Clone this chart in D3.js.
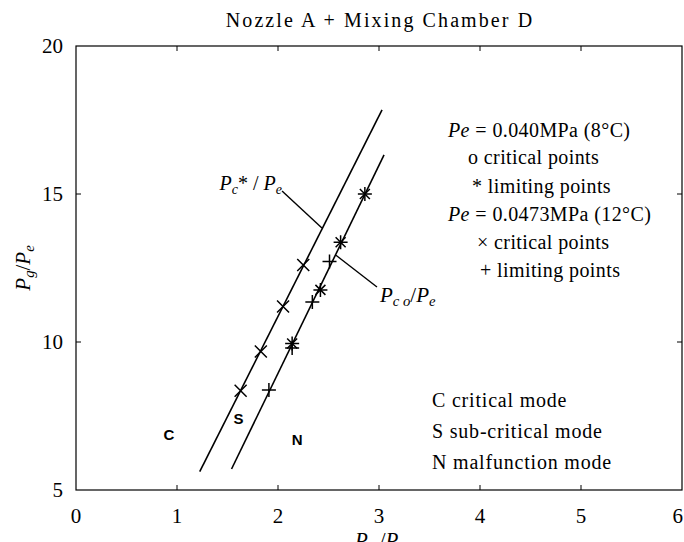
<!DOCTYPE html>
<html><head><meta charset="utf-8">
<script src="https://cdn.jsdelivr.net/npm/d3@7"></script>
<style>body{margin:0;background:#fff}svg{display:block}</style>
</head><body>
<script>
// ---- data ----
const xTicks = [0,1,2,3,4,5,6];
const yTicks = [5,10,15,20];
const lineCritical = [[1.225,5.62],[3.03,17.84]];   // Pc*/Pe
const lineLimiting = [[1.54,5.71],[3.05,16.32]];    // Pco/Pe
const starsPe040 = [[2.14,9.95],[2.42,11.76],[2.62,13.37],[2.86,15.0]];      // limiting, Pe=0.040
const crossesPe0473 = [[1.63,8.35],[1.83,9.68],[2.05,11.2],[2.25,12.6]];     // critical, Pe=0.0473
const plusesPe0473 = [[1.91,8.38],[2.14,9.8],[2.34,11.35],[2.51,12.72]];     // limiting, Pe=0.0473
const leaderCritical = [[2.04,15.1],[2.435,13.85]];
const leaderLimiting = [[2.574,12.93],[2.98,11.86]];
const modeLabels = [["C",0.92,6.85],["S",1.61,7.4],["N",2.19,6.7]];
const legendLines = ["critical points","limiting points"];
const modeLegend = [["C","critical mode"],["S","sub-critical mode"],["N","malfunction mode"]];

const W=684,H=542;
const x=d3.scaleLinear().domain([0,6]).range([76,682]);
const y=d3.scaleLinear().domain([5,20]).range([490,46]);
const svg=d3.select("body").append("svg").attr("width",W).attr("height",H);
const serif="'Liberation Serif','Times New Roman',serif";

// frame
svg.append("rect").attr("x",x(0)).attr("y",y(20)).attr("width",x(6)-x(0)).attr("height",y(5)-y(20))
  .attr("fill","none").attr("stroke","#000").attr("stroke-width",1.2);
// ticks (inward) bottom/top
const tl=5;
xTicks.slice(1,-1).forEach(t=>{
  svg.append("line").attr("x1",x(t)).attr("x2",x(t)).attr("y1",y(5)).attr("y2",y(5)-tl).attr("stroke","#000");
  svg.append("line").attr("x1",x(t)).attr("x2",x(t)).attr("y1",y(20)).attr("y2",y(20)+tl).attr("stroke","#000");
});
yTicks.slice(1,-1).forEach(t=>{
  svg.append("line").attr("x1",x(0)).attr("x2",x(0)+tl).attr("y1",y(t)).attr("y2",y(t)).attr("stroke","#000");
  svg.append("line").attr("x1",x(6)).attr("x2",x(6)-tl).attr("y1",y(t)).attr("y2",y(t)).attr("stroke","#000");
});
// tick labels
svg.selectAll(".xt").data(xTicks).enter().append("text")
  .attr("x",(d,i)=>i===xTicks.length-1?683:x(d)).attr("y",523)
  .attr("text-anchor",(d,i)=>i===xTicks.length-1?"end":"middle")
  .attr("font-family",serif).attr("font-size",21).text(d=>d);
svg.selectAll(".yt").data(yTicks).enter().append("text")
  .attr("x",63).attr("y",d=>y(d)).attr("dy","0.35em").attr("text-anchor","end")
  .attr("font-family",serif).attr("font-size",21).text(d=>d);

// title
svg.append("text").attr("x",380).attr("y",27).attr("text-anchor","middle")
  .attr("font-family",serif).attr("font-size",20).attr("letter-spacing",2.1)
  .text("Nozzle A + Mixing Chamber D");

// helper for P_sub / P_e
function ratio(sel, sub, slash){
  sel.append("tspan").attr("font-style","italic").text("P");
  sel.append("tspan").attr("font-style","italic").attr("font-size","0.7em").attr("dy","0.3em").text(sub);
  sel.append("tspan").attr("dy","-0.21em").text(slash);
  sel.append("tspan").attr("font-style","italic").text("P");
  sel.append("tspan").attr("font-style","italic").attr("font-size","0.7em").attr("dy","0.3em").text("e");
}
// axis titles
const xl=svg.append("text").attr("x",380).attr("y",547).attr("text-anchor","middle")
  .attr("font-family",serif).attr("font-size",21);
ratio(xl,"c"," /");
const yl=svg.append("text").attr("transform","translate(30,268) rotate(-90)").attr("text-anchor","middle")
  .attr("font-family",serif).attr("font-size",21);
ratio(yl,"g","/");

// lines
const line=d3.line().x(d=>x(d[0])).y(d=>y(d[1]));
[lineCritical,lineLimiting].forEach(l=>svg.append("path").attr("d",line(l)).attr("fill","none").attr("stroke","#000").attr("stroke-width",1.6));
[leaderCritical,leaderLimiting].forEach(l=>svg.append("path").attr("d",line(l)).attr("fill","none").attr("stroke","#000").attr("stroke-width",1.4));

// callout labels
const c1=svg.append("text").attr("x",x(leaderCritical[0][0])).attr("y",y(leaderCritical[0][1])-1).attr("text-anchor","end")
  .attr("font-family",serif).attr("font-size",20);
c1.append("tspan").attr("font-style","italic").text("P");
c1.append("tspan").attr("font-style","italic").attr("font-size","0.7em").attr("dy","0.3em").text("c");
c1.append("tspan").attr("dy","-0.21em").text("* / ");
c1.append("tspan").attr("font-style","italic").text("P");
c1.append("tspan").attr("font-style","italic").attr("font-size","0.7em").attr("dy","0.3em").text("e");
const c2=svg.append("text").attr("x",x(leaderLimiting[1][0])+3).attr("y",y(leaderLimiting[1][1])+15)
  .attr("font-family",serif).attr("font-size",21);
c2.append("tspan").attr("font-style","italic").text("P");
c2.append("tspan").attr("font-style","italic").attr("font-size","0.7em").attr("dy","0.3em").text("c o");
c2.append("tspan").attr("dy","-0.21em").text("/");
c2.append("tspan").attr("font-style","italic").text("P");
c2.append("tspan").attr("font-style","italic").attr("font-size","0.7em").attr("dy","0.3em").text("e");

// markers
const s=6;
function cross(g,cx,cy,r){g.append("path").attr("d",`M${cx-r},${cy-r}L${cx+r},${cy+r}M${cx-r},${cy+r}L${cx+r},${cy-r}`).attr("stroke","#000").attr("stroke-width",1.5).attr("fill","none");}
function plus(g,cx,cy,r){g.append("path").attr("d",`M${cx-r},${cy}L${cx+r},${cy}M${cx},${cy-r}L${cx},${cy+r}`).attr("stroke","#000").attr("stroke-width",1.5).attr("fill","none");}
const mg=svg.append("g");
crossesPe0473.forEach(d=>cross(mg,x(d[0]),y(d[1]),s));
plusesPe0473.forEach(d=>plus(mg,x(d[0]),y(d[1]),s+1));
starsPe040.forEach(d=>{cross(mg,x(d[0]),y(d[1]),5);plus(mg,x(d[0]),y(d[1]),7);});

// mode letters
svg.selectAll(".ml").data(modeLabels).enter().append("text")
  .attr("x",d=>x(d[1])).attr("y",d=>y(d[2])).attr("dy","0.35em").attr("text-anchor","middle")
  .attr("font-family","'Liberation Sans',Arial,sans-serif").attr("font-size",15).attr("font-weight","bold").text(d=>d[0]);

// legend (top right)
const lg=svg.append("g").attr("font-family",serif).attr("font-size",20);
function peLine(yy,val){
  const t=lg.append("text").attr("x",448).attr("y",yy).attr("letter-spacing",0.4);
  t.append("tspan").attr("font-style","italic").text("Pe");
  t.append("tspan").text(" = "+val);
}
peLine(137,"0.040MPa (8\u00B0C)");
lg.append("text").attr("x",468).attr("y",164).attr("letter-spacing",0.4).text("o  "+legendLines[0]);
lg.append("text").attr("x",472).attr("y",193).attr("letter-spacing",0.4).text("*  "+legendLines[1]);
peLine(221,"0.0473MPa (12\u00B0C)");
lg.append("text").attr("x",477).attr("y",249).attr("letter-spacing",0.4).text("\u00D7  "+legendLines[0]);
lg.append("text").attr("x",480).attr("y",277).attr("letter-spacing",0.4).text("+  "+legendLines[1]);

// mode legend
svg.selectAll(".mleg").data(modeLegend).enter().append("text")
  .attr("x",432).attr("y",(d,i)=>407+i*31).attr("font-family",serif).attr("font-size",20).attr("letter-spacing",0.8)
  .text(d=>d[0]+"  "+d[1]);
</script>
</body></html>
